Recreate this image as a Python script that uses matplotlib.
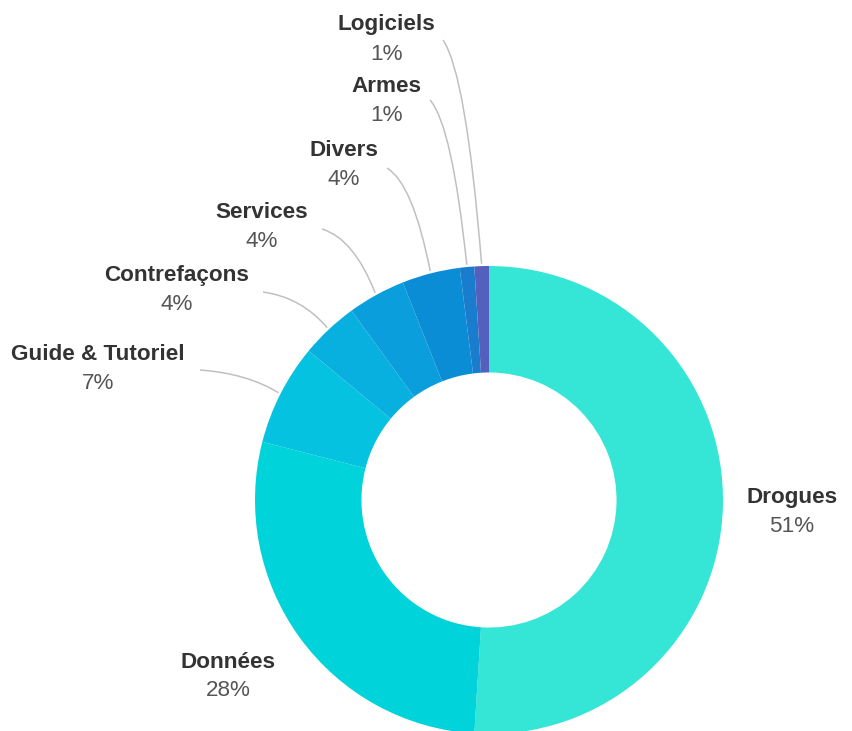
import matplotlib.pyplot as plt
import numpy as np
from matplotlib.path import Path
from matplotlib.patches import PathPatch

categories = ["Drogues", "Données", "Guide & Tutoriel", "Contrefaçons",
              "Services", "Divers", "Armes", "Logiciels"]
values = [51, 28, 7, 4, 4, 4, 1, 1]
colors = ["#35e6d6", "#00d3d9", "#05c2e0", "#07b0df",
          "#0a9fdc", "#0b8dd6", "#1a7ccd", "#5560be"]

# label layout in pixels (name centre) and where the connector starts
label_pos = [(792, 498), (228, 662), (98, 355), (177, 276),
             (262, 213), (344, 151), (386, 87), (386, 25)]
line_start = [None, None, (200, 370), (263, 292),
              (322, 229), (387, 168), (430, 100), (443, 40)]

W, H = 853, 731
cx, cy, R = 489, 500, 234


def px(x, y):
    return (x - cx) / R, (cy - y) / R


fig = plt.figure(figsize=(W / 100, H / 100), dpi=100)
ax = fig.add_axes([0, 0, 1, 1])

wedges, _ = ax.pie(values, colors=colors, startangle=90, counterclock=False,
                   radius=1, wedgeprops=dict(width=0.455, linewidth=0))

ax.set_aspect("auto")
ax.set_xlim(-cx / R, (W - cx) / R)
ax.set_ylim(-(H - cy) / R, cy / R)
ax.axis("off")

total = sum(values)
cum = 0
for i, (name, v) in enumerate(zip(categories, values)):
    mid = (cum + v / 2) / total
    cum += v
    ang = np.deg2rad(90 - 360 * mid)
    ex, ey = 1.01 * np.cos(ang), 1.01 * np.sin(ang)

    lx, ly = px(*label_pos[i])
    ax.text(lx, ly, name, ha="center", va="center", fontsize=16.2,
            fontweight="bold", color="#333333", family="Liberation Sans")
    plx, ply = px(label_pos[i][0], label_pos[i][1] + 29)
    ax.text(plx, ply, f"{v}%", ha="center", va="center", fontsize=16.2,
            color="#555555", family="Liberation Sans")

    if line_start[i] is not None:
        sx, sy = px(*line_start[i])
        ctrl = (sx + 0.6 * (ex - sx), sy + 0.15 * (ey - sy))
        path = Path([(sx, sy), ctrl, (ex, ey)],
                    [Path.MOVETO, Path.CURVE3, Path.CURVE3])
        ax.add_patch(PathPatch(path, fill=False, edgecolor="#c0c0c0", lw=1.1))

fig.savefig("out.png", dpi=100)
